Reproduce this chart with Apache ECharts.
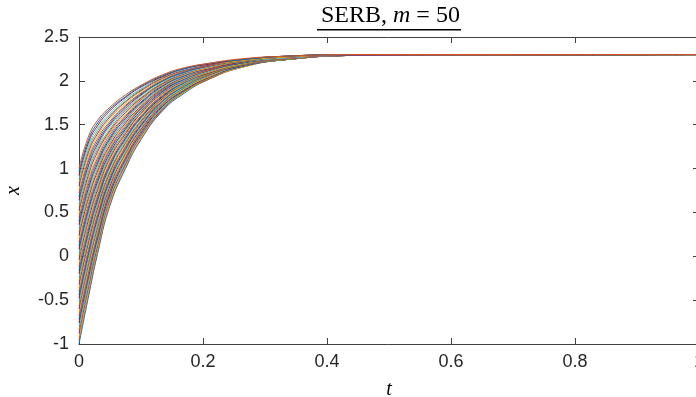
<!DOCTYPE html>
<html>
<head>
<meta charset="utf-8">
<script src="https://cdn.jsdelivr.net/npm/echarts@6/dist/echarts.min.js"></script>
<style>
  html, body { margin: 0; padding: 0; background: #fff; }
  #chart { width: 696px; height: 397px; }
</style>
</head>
<body>
<div id="chart"></div>
<script>
// sample times (t) shared by every trajectory
const tSamples = [0, 0.015, 0.03, 0.05, 0.075, 0.1, 0.135, 0.17, 0.21, 0.26, 0.33, 0.45, 1];

// x(t) for each trajectory (bottom start -1 ... top start 1)
const curves = [
  [-1.00, -0.47, 0.03, 0.58, 1.00, 1.33, 1.66, 1.86, 2.02, 2.15, 2.24, 2.29, 2.30],
  [-0.96, -0.43, 0.06, 0.60, 1.02, 1.34, 1.67, 1.87, 2.02, 2.15, 2.24, 2.29, 2.30],
  [-0.92, -0.40, 0.09, 0.62, 1.03, 1.35, 1.68, 1.87, 2.03, 2.15, 2.24, 2.29, 2.30],
  [-0.88, -0.36, 0.12, 0.65, 1.05, 1.37, 1.68, 1.88, 2.03, 2.16, 2.24, 2.29, 2.30],
  [-0.84, -0.32, 0.15, 0.67, 1.07, 1.38, 1.69, 1.88, 2.03, 2.16, 2.24, 2.29, 2.30],
  [-0.80, -0.29, 0.18, 0.69, 1.08, 1.39, 1.70, 1.89, 2.04, 2.16, 2.24, 2.29, 2.30],
  [-0.76, -0.25, 0.21, 0.71, 1.10, 1.40, 1.71, 1.89, 2.04, 2.16, 2.24, 2.29, 2.30],
  [-0.72, -0.21, 0.24, 0.74, 1.12, 1.42, 1.72, 1.90, 2.05, 2.16, 2.24, 2.29, 2.30],
  [-0.68, -0.18, 0.27, 0.76, 1.13, 1.43, 1.73, 1.91, 2.05, 2.17, 2.24, 2.29, 2.30],
  [-0.64, -0.14, 0.30, 0.78, 1.15, 1.44, 1.73, 1.91, 2.05, 2.17, 2.24, 2.29, 2.30],
  [-0.60, -0.10, 0.33, 0.80, 1.17, 1.45, 1.74, 1.92, 2.06, 2.17, 2.24, 2.29, 2.30],
  [-0.56, -0.07, 0.36, 0.83, 1.18, 1.47, 1.75, 1.92, 2.06, 2.17, 2.24, 2.29, 2.30],
  [-0.52, -0.03, 0.39, 0.85, 1.20, 1.48, 1.76, 1.93, 2.06, 2.17, 2.25, 2.29, 2.30],
  [-0.48, 0.01, 0.43, 0.87, 1.22, 1.49, 1.77, 1.94, 2.07, 2.17, 2.25, 2.29, 2.30],
  [-0.44, 0.04, 0.46, 0.89, 1.24, 1.50, 1.77, 1.94, 2.07, 2.18, 2.25, 2.29, 2.30],
  [-0.40, 0.08, 0.49, 0.92, 1.25, 1.52, 1.78, 1.95, 2.07, 2.18, 2.25, 2.29, 2.30],
  [-0.36, 0.12, 0.52, 0.94, 1.27, 1.53, 1.79, 1.95, 2.08, 2.18, 2.25, 2.29, 2.30],
  [-0.32, 0.15, 0.55, 0.96, 1.29, 1.54, 1.80, 1.96, 2.08, 2.18, 2.25, 2.29, 2.30],
  [-0.28, 0.19, 0.58, 0.98, 1.30, 1.55, 1.81, 1.96, 2.08, 2.18, 2.25, 2.29, 2.30],
  [-0.24, 0.23, 0.61, 1.01, 1.32, 1.57, 1.82, 1.97, 2.09, 2.19, 2.25, 2.29, 2.30],
  [-0.20, 0.26, 0.64, 1.03, 1.34, 1.58, 1.82, 1.98, 2.09, 2.19, 2.25, 2.29, 2.30],
  [-0.16, 0.30, 0.67, 1.05, 1.35, 1.59, 1.83, 1.98, 2.10, 2.19, 2.25, 2.29, 2.30],
  [-0.12, 0.34, 0.70, 1.07, 1.37, 1.60, 1.84, 1.99, 2.10, 2.19, 2.25, 2.29, 2.30],
  [-0.08, 0.37, 0.73, 1.10, 1.39, 1.62, 1.85, 1.99, 2.10, 2.19, 2.26, 2.29, 2.30],
  [-0.04, 0.41, 0.76, 1.12, 1.40, 1.63, 1.86, 2.00, 2.11, 2.20, 2.26, 2.29, 2.30],
  [0.00, 0.45, 0.79, 1.14, 1.42, 1.64, 1.87, 2.01, 2.11, 2.20, 2.26, 2.29, 2.30],
  [0.04, 0.48, 0.82, 1.16, 1.44, 1.65, 1.87, 2.01, 2.11, 2.20, 2.26, 2.29, 2.30],
  [0.08, 0.52, 0.85, 1.18, 1.45, 1.66, 1.88, 2.02, 2.12, 2.20, 2.26, 2.29, 2.30],
  [0.12, 0.55, 0.88, 1.21, 1.47, 1.68, 1.89, 2.02, 2.12, 2.20, 2.26, 2.29, 2.30],
  [0.16, 0.59, 0.91, 1.23, 1.49, 1.69, 1.90, 2.03, 2.12, 2.21, 2.26, 2.29, 2.30],
  [0.20, 0.63, 0.94, 1.25, 1.50, 1.70, 1.91, 2.03, 2.13, 2.21, 2.26, 2.29, 2.30],
  [0.24, 0.66, 0.97, 1.27, 1.52, 1.71, 1.91, 2.04, 2.13, 2.21, 2.26, 2.29, 2.30],
  [0.28, 0.70, 1.00, 1.30, 1.54, 1.73, 1.92, 2.05, 2.14, 2.21, 2.26, 2.29, 2.30],
  [0.32, 0.74, 1.03, 1.32, 1.55, 1.74, 1.93, 2.05, 2.14, 2.21, 2.26, 2.29, 2.30],
  [0.36, 0.77, 1.06, 1.34, 1.57, 1.75, 1.94, 2.06, 2.14, 2.21, 2.27, 2.29, 2.30],
  [0.40, 0.81, 1.09, 1.36, 1.59, 1.76, 1.95, 2.06, 2.15, 2.22, 2.27, 2.29, 2.30],
  [0.44, 0.85, 1.12, 1.39, 1.60, 1.78, 1.96, 2.07, 2.15, 2.22, 2.27, 2.29, 2.30],
  [0.48, 0.88, 1.15, 1.41, 1.62, 1.79, 1.96, 2.07, 2.15, 2.22, 2.27, 2.29, 2.30],
  [0.52, 0.92, 1.19, 1.43, 1.64, 1.80, 1.97, 2.08, 2.16, 2.22, 2.27, 2.29, 2.30],
  [0.56, 0.96, 1.22, 1.45, 1.66, 1.81, 1.98, 2.09, 2.16, 2.22, 2.27, 2.30, 2.30],
  [0.60, 0.99, 1.25, 1.48, 1.67, 1.83, 1.99, 2.09, 2.16, 2.23, 2.27, 2.30, 2.30],
  [0.64, 1.03, 1.28, 1.50, 1.69, 1.84, 2.00, 2.10, 2.17, 2.23, 2.27, 2.30, 2.30],
  [0.68, 1.07, 1.31, 1.52, 1.71, 1.85, 2.00, 2.10, 2.17, 2.23, 2.27, 2.30, 2.30],
  [0.72, 1.10, 1.34, 1.54, 1.72, 1.86, 2.01, 2.11, 2.17, 2.23, 2.27, 2.30, 2.30],
  [0.76, 1.14, 1.37, 1.57, 1.74, 1.88, 2.02, 2.12, 2.18, 2.23, 2.27, 2.30, 2.30],
  [0.80, 1.18, 1.40, 1.59, 1.76, 1.89, 2.03, 2.12, 2.18, 2.24, 2.28, 2.30, 2.30],
  [0.84, 1.21, 1.43, 1.61, 1.77, 1.90, 2.04, 2.13, 2.19, 2.24, 2.28, 2.30, 2.30],
  [0.88, 1.25, 1.46, 1.63, 1.79, 1.91, 2.05, 2.13, 2.19, 2.24, 2.28, 2.30, 2.30],
  [0.92, 1.29, 1.49, 1.66, 1.81, 1.93, 2.05, 2.14, 2.19, 2.24, 2.28, 2.30, 2.30],
  [0.96, 1.32, 1.52, 1.68, 1.82, 1.94, 2.06, 2.14, 2.20, 2.24, 2.28, 2.30, 2.30],
  [1.00, 1.36, 1.55, 1.70, 1.84, 1.95, 2.07, 2.15, 2.20, 2.25, 2.28, 2.30, 2.30],
];

// matlab default line colours
const lineColors = ['#0072BD', '#D95319', '#EDB120', '#7E2F8E', '#77AC30', '#4DBEEE', '#A2142F'];

const chart = echarts.init(document.getElementById('chart'), null, { renderer: 'canvas' });

const axisColor = '#404040';
const tickFont = { fontFamily: 'Liberation Sans', fontSize: 18, color: '#262626' };

const series = curves.map((vals, k) => ({
  type: 'line',
  data: tSamples.map((t, j) => [t, vals[j]]),
  showSymbol: false,
  smooth: 0.5,
  lineStyle: { width: 1, color: lineColors[k % lineColors.length] },
  silent: true,
  z: 2,
}));

const option = {
  backgroundColor: '#fff',
  animation: false,
  title: {
    text: '{a|SERB, }{b|m}{a| = 50}',
    left: 316,
    top: -1,
    textStyle: {
      fontWeight: 'normal',
      rich: {
        a: { fontFamily: 'Liberation Serif', fontWeight: 'normal', fontSize: 24, color: '#000' },
        b: { fontFamily: 'Liberation Serif', fontStyle: 'italic', fontWeight: 'normal', fontSize: 24, color: '#000' },
      },
    },
  },
  graphic: [
    // underline below the title
    { type: 'rect', shape: { x: 317, y: 29, width: 144, height: 1.4 }, style: { fill: '#000' } },
  ],
  grid: { left: 79, right: -3, top: 37, bottom: 53, outerBoundsMode: 'none', containLabel: false },
  xAxis: [
    {
      type: 'value', min: 0, max: 1, interval: 0.2,
      name: 't', nameLocation: 'middle', nameGap: 36,
      nameTextStyle: { fontFamily: 'Liberation Serif', fontStyle: 'italic', fontSize: 20, color: '#000' },
      axisLine: { show: true, onZero: false, lineStyle: { color: axisColor, width: 1 } },
      axisTick: { show: true, inside: true, length: 6, lineStyle: { color: axisColor } },
      axisLabel: Object.assign({ margin: 9 }, tickFont),
      splitLine: { show: false },
    },
    {
      type: 'value', min: 0, max: 1, interval: 0.2, position: 'top',
      axisLine: { show: true, onZero: false, lineStyle: { color: axisColor, width: 1 } },
      axisTick: { show: true, inside: true, length: 6, lineStyle: { color: axisColor } },
      axisLabel: { show: false },
      splitLine: { show: false },
    },
  ],
  yAxis: [
    {
      type: 'value', min: -1, max: 2.5, interval: 0.5,
      name: 'x', nameLocation: 'middle', nameGap: 55, nameRotate: 90,
      nameTextStyle: { fontFamily: 'Liberation Serif', fontStyle: 'italic', fontSize: 20, color: '#000' },
      axisLine: { show: true, onZero: false, lineStyle: { color: axisColor, width: 1 } },
      axisTick: { show: true, inside: true, length: 6, lineStyle: { color: axisColor } },
      axisLabel: Object.assign({ margin: 10 }, tickFont),
      splitLine: { show: false },
    },
    {
      type: 'value', min: -1, max: 2.5, interval: 0.5, position: 'right',
      axisLine: { show: true, onZero: false, lineStyle: { color: axisColor, width: 1 } },
      axisTick: { show: true, inside: true, length: 6, lineStyle: { color: axisColor } },
      axisLabel: { show: false },
      splitLine: { show: false },
    },
  ],
  series: series,
};

chart.setOption(option);
</script>
</body>
</html>
